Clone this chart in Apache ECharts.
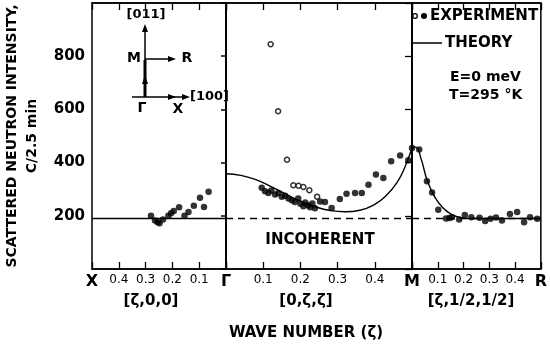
<!DOCTYPE html>
<html>
<head>
<meta charset="utf-8">
<script src="https://cdn.jsdelivr.net/npm/echarts@6/dist/echarts.min.js"></script>
<style>
  html, body { margin: 0; padding: 0; background: #fff; }
  #chart { width: 550px; height: 347px; }
</style>
</head>
<body>
<div id="chart"></div>
<script>
// [zeta, counts per 2.5 min] for each branch of the Brillouin zone path
const xgExp = [[0.28,200],[0.265,182],[0.255,176],[0.248,172],[0.235,186],[0.215,200],[0.205,210],
  [0.195,218],[0.175,232],[0.155,200],[0.14,214],[0.12,238],[0.097,268],[0.082,233],[0.065,290]];
const xgTheory = [[0,190],[0.5,190]];

const gmExp = [[0.096,305],[0.105,292],[0.114,286],[0.122,295],[0.132,280],[0.141,286],[0.15,272],
  [0.159,275],[0.168,265],[0.177,258],[0.185,252],[0.194,265],[0.2,245],[0.208,236],[0.213,250],
  [0.22,240],[0.226,232],[0.232,246],[0.239,228],[0.253,254],[0.266,252],[0.284,229],[0.306,263],
  [0.324,283],[0.347,286],[0.365,286],[0.383,317],[0.403,355],[0.423,342],[0.444,405],[0.468,427],
  [0.49,409],[0.5,455]];
const gmOpen = [[0.12,845],[0.14,593],[0.164,411],[0.181,315],[0.195,313],[0.208,308],[0.224,296],[0.245,272]];
const gmTheory = [[0,358],[0.04,352],[0.08,336],[0.12,311],[0.16,282],[0.2,255],[0.24,234],
  [0.28,220],[0.32,215],[0.36,221],[0.4,243],[0.43,275],[0.46,326],[0.48,380],[0.5,455]];

const mrExp = [[0.028,449],[0.058,330],[0.078,288],[0.102,223],[0.132,190],[0.145,192],[0.155,195],
  [0.183,186],[0.205,203],[0.23,195],[0.262,193],[0.284,180],[0.305,189],[0.326,194],[0.349,182],
  [0.38,207],[0.408,214],[0.435,176],[0.458,195],[0.486,189]];
const mrTheory = [[0,455],[0.015,458],[0.035,415],[0.06,330],[0.09,268],[0.12,230],[0.15,207],
  [0.18,195],[0.22,190],[0.5,190]];

const incoherent = 190;
const yMin = 0, yMax = 1000, yStep = 200;
const endLabels = [['X', 'Γ'], ['', 'M'], ['', 'R']]; // [at 0, at 0.5] of each panel (left one is inverted)

const FONT = 'DejaVu Sans';
const chart = echarts.init(document.getElementById('chart'));

const grids = [
  { left: 92, top: 3, width: 134, height: 266 },
  { left: 226, top: 3, width: 186, height: 266 },
  { left: 412, top: 3, width: 131, height: 266 }
].map(g => ({ ...g, show: true, borderColor: '#000', borderWidth: 1.5, backgroundColor: 'transparent' }));

function near(a, b) { return Math.abs(a - b) < 1e-6; }

function bottomAxis(i) {
  const ends = endLabels[i];
  return {
    gridIndex: i, type: 'value', min: 0, max: 0.5, interval: 0.1, position: 'bottom',
    inverse: i === 0,
    axisLine: { lineStyle: { color: '#000', width: 1.5 } },
    axisTick: { inside: true, length: 7, lineStyle: { color: '#000', width: 1.3 } },
    splitLine: { show: false },
    axisLabel: {
      margin: 5, color: '#000', fontFamily: FONT, fontSize: 12,
      formatter: v => {
        if (i === 0) {
          if (near(v, 0.5)) return '{p|X}';
          if (near(v, 0)) return '{p|Γ}';
        } else {
          if (near(v, 0)) return ends[0];
          if (near(v, 0.5)) return '{p|' + ends[1] + '}';
        }
        return v.toFixed(1);
      },
      rich: { p: { fontFamily: FONT, fontSize: 16, fontWeight: 'bold', color: '#000' } }
    }
  };
}
function topAxis(i) {
  return {
    gridIndex: i, type: 'value', min: 0, max: 0.5, interval: 0.1, position: 'top',
    inverse: i === 0,
    axisLine: { lineStyle: { color: '#000', width: 1.5 } },
    axisTick: { inside: true, length: 7, lineStyle: { color: '#000', width: 1.3 } },
    axisLabel: { show: false }, splitLine: { show: false }
  };
}

const xAxes = [bottomAxis(0), bottomAxis(1), bottomAxis(2), topAxis(0), topAxis(1), topAxis(2)];

const yAxes = [
  {
    gridIndex: 0, type: 'value', min: yMin, max: yMax, interval: yStep, position: 'left',
    name: 'SCATTERED NEUTRON INTENSITY,\nC/2.5 min', nameLocation: 'middle', nameGap: 50, nameRotate: 90,
    nameTextStyle: { fontFamily: FONT, fontSize: 14, fontWeight: 'bold', color: '#000', lineHeight: 20 },
    axisLine: { show: true, lineStyle: { color: '#000', width: 1.5 } },
    axisTick: { show: true, inside: false, length: 5, lineStyle: { color: '#000', width: 1.5 } },
    splitLine: { show: false },
    axisLabel: {
      margin: 7, color: '#000', fontFamily: FONT, fontSize: 15, fontWeight: 'bold',
      formatter: v => (v === yMin || v === yMax) ? '' : String(v)
    }
  },
  {
    gridIndex: 1, type: 'value', min: yMin, max: yMax, interval: yStep,
    axisLine: { show: true, lineStyle: { color: '#000', width: 1.5 } },
    axisTick: { show: false }, axisLabel: { show: false }, splitLine: { show: false }
  },
  {
    gridIndex: 2, type: 'value', min: yMin, max: yMax, interval: yStep, position: 'right',
    axisLine: { show: true, lineStyle: { color: '#000', width: 1.5 } },
    axisTick: { show: true, inside: true, length: 7, lineStyle: { color: '#000', width: 1.3 } },
    axisLabel: { show: false }, splitLine: { show: false }
  }
];

const dot = (name, data, i) => ({
  name, type: 'scatter', xAxisIndex: i, yAxisIndex: i, data,
  symbol: 'circle', symbolSize: 6.5, itemStyle: { color: '#000' }, z: 5
});
const curve = (name, data, i, dashed) => ({
  name, type: 'line', xAxisIndex: i, yAxisIndex: i, data,
  showSymbol: false, smooth: dashed ? false : 0.5,
  lineStyle: { color: '#000', width: 1.4, type: dashed ? [7, 5] : 'solid' }, z: 3
});
const flat = [[0, incoherent], [0.5, incoherent]];

const option = {
  animation: false,
  backgroundColor: '#fff',
  grid: grids,
  xAxis: xAxes,
  yAxis: yAxes,
  series: [
    curve('theory X-Γ', xgTheory, 0, false),
    dot('experiment X-Γ', xgExp, 0),
    curve('incoherent Γ-M', flat, 1, true),
    curve('theory Γ-M', gmTheory, 1, false),
    dot('experiment Γ-M', gmExp, 1),
    {
      name: 'experiment Γ-M (open)', type: 'scatter', xAxisIndex: 1, yAxisIndex: 1, data: gmOpen,
      symbol: 'circle', symbolSize: 5, itemStyle: { color: '#fff', borderColor: '#000', borderWidth: 1.5 }, z: 5
    },
    curve('incoherent M-R', flat, 2, true),
    curve('theory M-R', mrTheory, 2, false),
    dot('experiment M-R', mrExp, 2)
  ],
  graphic: [
    // legend
    { type: 'circle', shape: { cx: 415, cy: 16, r: 2.3 }, style: { fill: '#fff', stroke: '#000', lineWidth: 1.3 } },
    { type: 'circle', shape: { cx: 424, cy: 16, r: 3 }, style: { fill: '#000' } },
    { type: 'text', x: 430, y: 16, style: { text: 'EXPERIMENT', font: 'bold 15px ' + FONT, fill: '#000', verticalAlign: 'middle' } },
    { type: 'line', shape: { x1: 413, y1: 43, x2: 442, y2: 43 }, style: { stroke: '#000', lineWidth: 1.5 } },
    { type: 'text', x: 445, y: 43, style: { text: 'THEORY', font: 'bold 15px ' + FONT, fill: '#000', verticalAlign: 'middle' } },
    { type: 'text', x: 450, y: 77, style: { text: 'E=0 meV', font: 'bold 14px ' + FONT, fill: '#000', verticalAlign: 'middle' } },
    { type: 'text', x: 449, y: 95, style: { text: 'T=295 °K', font: 'bold 14px ' + FONT, fill: '#000', verticalAlign: 'middle' } },
    // annotations
    { type: 'text', x: 320, y: 240, style: { text: 'INCOHERENT', font: 'bold 15px ' + FONT, fill: '#000', align: 'center', verticalAlign: 'middle' } },
    { type: 'text', x: 151, y: 301, style: { text: '[ζ,0,0]', font: 'bold 15px ' + FONT, fill: '#000', align: 'center', verticalAlign: 'middle' } },
    { type: 'text', x: 306, y: 301, style: { text: '[0,ζ,ζ]', font: 'bold 15px ' + FONT, fill: '#000', align: 'center', verticalAlign: 'middle' } },
    { type: 'text', x: 471, y: 301, style: { text: '[ζ,1/2,1/2]', font: 'bold 15px ' + FONT, fill: '#000', align: 'center', verticalAlign: 'middle' } },
    { type: 'text', x: 306, y: 333, style: { text: 'WAVE NUMBER (ζ)', font: 'bold 15px ' + FONT, fill: '#000', align: 'center', verticalAlign: 'middle' } },
    // inset: zone path sketch
    { type: 'line', shape: { x1: 145, y1: 97, x2: 145, y2: 28 }, style: { stroke: '#000', lineWidth: 1.5 } },
    { type: 'line', shape: { x1: 145, y1: 97, x2: 145, y2: 60 }, style: { stroke: '#000', lineWidth: 3 } },
    { type: 'polygon', shape: { points: [[145, 24], [142, 32], [148, 32]] }, style: { fill: '#000' } },
    { type: 'polygon', shape: { points: [[145, 75], [142, 84], [148, 84]] }, style: { fill: '#000' } },
    { type: 'line', shape: { x1: 132, y1: 97, x2: 186, y2: 97 }, style: { stroke: '#000', lineWidth: 1.5 } },
    { type: 'polygon', shape: { points: [[190, 97], [182, 94], [182, 100]] }, style: { fill: '#000' } },
    { type: 'polygon', shape: { points: [[176, 97], [168, 94], [168, 100]] }, style: { fill: '#000' } },
    { type: 'line', shape: { x1: 145, y1: 59, x2: 172, y2: 59 }, style: { stroke: '#000', lineWidth: 1.5 } },
    { type: 'polygon', shape: { points: [[176, 59], [168, 56], [168, 62]] }, style: { fill: '#000' } },
    { type: 'text', x: 146, y: 15, style: { text: '[011]', font: 'bold 13px ' + FONT, fill: '#000', align: 'center', verticalAlign: 'middle' } },
    { type: 'text', x: 134, y: 58, style: { text: 'M', font: 'bold 14px ' + FONT, fill: '#000', align: 'center', verticalAlign: 'middle' } },
    { type: 'text', x: 187, y: 58, style: { text: 'R', font: 'bold 14px ' + FONT, fill: '#000', align: 'center', verticalAlign: 'middle' } },
    { type: 'text', x: 142, y: 108, style: { text: 'Γ', font: 'bold 14px ' + FONT, fill: '#000', align: 'center', verticalAlign: 'middle' } },
    { type: 'text', x: 178, y: 109, style: { text: 'X', font: 'bold 14px ' + FONT, fill: '#000', align: 'center', verticalAlign: 'middle' } },
    { type: 'text', x: 190, y: 97, style: { text: '[100]', font: 'bold 13px ' + FONT, fill: '#000', verticalAlign: 'middle' } }
  ]
};

chart.setOption(option);
</script>
</body>
</html>
